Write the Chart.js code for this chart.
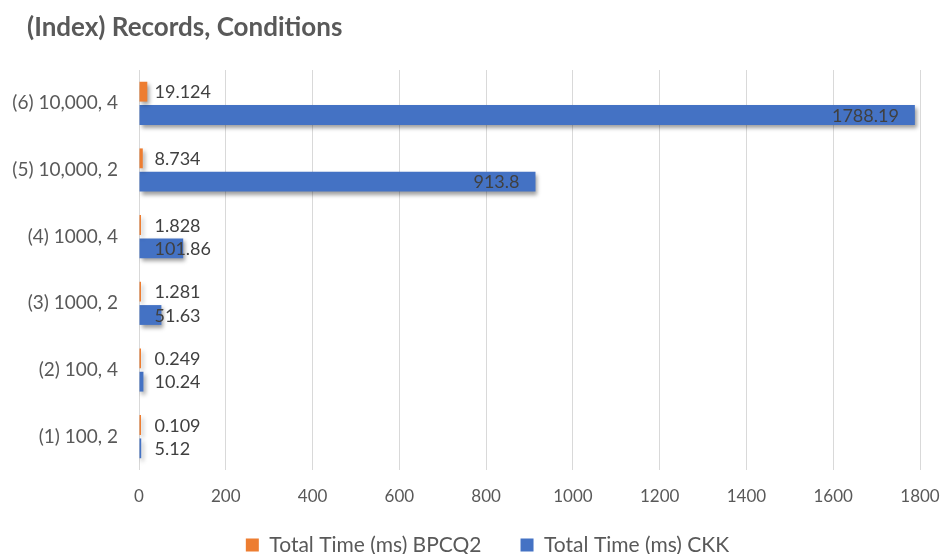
<!DOCTYPE html>
<html>
<head>
<meta charset="utf-8">
<script src="https://cdn.jsdelivr.net/npm/chart.js@4/dist/chart.umd.min.js"></script>
<style>
  html, body { margin: 0; padding: 0; background: #ffffff; }
  #wrap { width: 948px; height: 554px; position: relative; }
</style>
</head>
<body>
<div id="wrap"><canvas id="chart" width="948" height="554"></canvas></div>
<script>
// Categories, top to bottom
const categories = ['(6) 10,000, 4', '(5) 10,000, 2', '(4) 1000, 4', '(3) 1000, 2', '(2) 100, 4', '(1) 100, 2'];
// Total time in milliseconds per method
const bpcq2Times = [19.124, 8.734, 1.828, 1.281, 0.249, 0.109];
const ckkTimes = [1788.19, 913.8, 101.86, 51.63, 10.24, 5.12];
const seriesNames = ['Total Time (ms) BPCQ2', 'Total Time (ms) CKK'];
const titleText = '(Index) Records, Conditions';
const xTicks = [0, 200, 400, 600, 800, 1000, 1200, 1400, 1600, 1800];

const FONT = 'Lato, "Open Sans", sans-serif';
const TEXT = '#595959';

// Chart heading drawn at the top-left corner
const headingPlugin = {
  id: 'heading',
  afterDraw(chart) {
    const ctx = chart.ctx;
    ctx.save();
    ctx.font = 'bold 26px ' + FONT;
    ctx.fillStyle = TEXT;
    ctx.textAlign = 'left';
    ctx.textBaseline = 'middle';
    ctx.fillText(titleText, 27, 28);
    ctx.restore();
  }
};

// Soft drop shadow under the bars
const shadowPlugin = {
  id: 'barShadow',
  beforeDatasetsDraw(chart) {
    const ctx = chart.ctx;
    ctx.save();
    ctx.shadowColor = 'rgba(0,0,0,0.38)';
    ctx.shadowBlur = 4;
    ctx.shadowOffsetX = 2;
    ctx.shadowOffsetY = 3;
  },
  afterDatasetsDraw(chart) {
    chart.ctx.restore();
  }
};

// Value labels: inside the bar end when they fit, otherwise just right of the axis
const valueLabelPlugin = {
  id: 'valueLabels',
  afterDatasetsDraw(chart) {
    const ctx = chart.ctx;
    ctx.save();
    ctx.font = '18px ' + FONT;
    ctx.fillStyle = '#404040';
    ctx.textBaseline = 'middle';
    chart.data.datasets.forEach((ds, di) => {
      const meta = chart.getDatasetMeta(di);
      meta.data.forEach((bar, i) => {
        const txt = String(ds.data[i]);
        const w = ctx.measureText(txt).width;
        const len = bar.x - bar.base;
        if (len > w + 30) {
          ctx.textAlign = 'right';
          ctx.fillText(txt, bar.x - 16, bar.y + 1);
        } else {
          ctx.textAlign = 'left';
          ctx.fillText(txt, bar.base + 15, bar.y + 1);
        }
      });
    });
    ctx.restore();
  }
};

// Axis bands are kept compact; let their tick text run past the band edges
const noLabelClip = scale => { scale._computeLabelArea = () => undefined; };

new Chart(document.getElementById('chart'), {
  type: 'bar',
  data: {
    labels: categories,
    datasets: [
      { label: seriesNames[0], data: bpcq2Times, backgroundColor: '#ED7D31', minBarLength: 2 },
      { label: seriesNames[1], data: ckkTimes, backgroundColor: '#4472C4', minBarLength: 2 }
    ]
  },
  options: {
    indexAxis: 'y',
    responsive: false,
    animation: false,
    events: [],
    layout: { padding: { top: 70, right: 28, bottom: -11.5, left: 55 } },
    datasets: { bar: { barPercentage: 0.85, categoryPercentage: 0.7 } },
    scales: {
      x: {
        min: 0,
        max: 1800,
        afterBuildTicks(scale) { scale.ticks = xTicks.map(v => ({ value: v })); },
        afterFit(scale) {
          scale.height = 25.5;
          scale.paddingRight = 0;
          scale.paddingLeft = 0;
          noLabelClip(scale);
        },
        grid: { color: '#d9d9d9', lineWidth: 1, drawTicks: false },
        border: { display: false },
        ticks: { color: TEXT, font: { family: FONT, size: 17 }, padding: 16, callback: v => String(v) }
      },
      y: {
        grid: { display: false, drawTicks: false },
        border: { display: false },
        ticks: { color: TEXT, font: { family: FONT, size: 19 }, padding: 21 },
        afterFit(scale) {
          scale.width = 84;
          noLabelClip(scale);
        }
      }
    },
    plugins: {
      legend: {
        position: 'bottom',
        labels: {
          color: TEXT,
          font: { family: FONT, size: 21 },
          boxWidth: 13,
          boxHeight: 13,
          padding: 39
        }
      },
      title: { display: false },
      tooltip: { enabled: false }
    }
  },
  plugins: [headingPlugin, shadowPlugin, valueLabelPlugin]
});
</script>
</body>
</html>
